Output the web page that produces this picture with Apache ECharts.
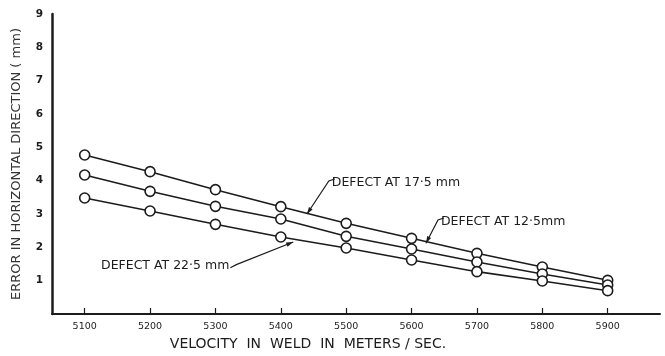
<!DOCTYPE html>
<html>
<head>
<meta charset="utf-8">
<script src="https://cdn.jsdelivr.net/npm/echarts@6/dist/echarts.min.js"></script>
<style>
  html, body { margin: 0; padding: 0; background: #fff; }
  #chart { width: 665px; height: 356px; }
</style>
</head>
<body>
<div id="chart"></div>
<script>
// velocities (m/s)
const velocity = [5100, 5200, 5300, 5400, 5500, 5600, 5700, 5800, 5900];
// error in horizontal direction (mm)
const defect175 = [4.77, 4.27, 3.73, 3.22, 2.72, 2.27, 1.82, 1.41, 1.01];
const defect125 = [4.17, 3.68, 3.23, 2.85, 2.33, 1.95, 1.56, 1.20, 0.87];
const defect225 = [3.48, 3.09, 2.69, 2.31, 1.98, 1.62, 1.27, 0.99, 0.70];
const xTicks = [5100, 5200, 5300, 5400, 5500, 5600, 5700, 5800, 5900];

const ink = "#1c1c1c";
const font = "DejaVu Sans";
const noteFont = "12.5px " + font;

const pairs = (ys) => velocity.map((v, i) => [v, ys[i]]);

const line = (name, ys) => ({
  name: name,
  type: "line",
  data: pairs(ys),
  symbol: "circle",
  symbolSize: 10,
  showSymbol: true,
  itemStyle: { color: "#fff", borderColor: ink, borderWidth: 1.6 },
  lineStyle: { color: ink, width: 1.6 },
  z: 3,
});

const chart = echarts.init(document.getElementById("chart"));
chart.setOption({
  backgroundColor: "#fff",
  animation: false,
  grid: { left: 52, right: 5, top: 14, bottom: 42, outerBoundsMode: "none", containLabel: false },
  xAxis: {
    type: "value",
    min: 5050,
    max: 5980,
    name: "VELOCITY  IN  WELD  IN  METERS / SEC.",
    nameLocation: "middle",
    nameGap: 22,
    nameTextStyle: { color: ink, fontFamily: font, fontSize: 14, padding: [0, 96, 0, 0] },
    axisLine: { lineStyle: { color: ink, width: 2 } },
    axisTick: {
      customValues: xTicks,
      inside: true,
      length: 6,
      lineStyle: { color: ink, width: 1.2 },
    },
    axisLabel: {
      customValues: xTicks,
      color: ink,
      fontFamily: font,
      fontSize: 9.5,
      margin: 8,
      formatter: (v) => String(v),
    },
    splitLine: { show: false },
  },
  yAxis: {
    type: "value",
    min: 0,
    max: 9,
    interval: 1,
    name: "ERROR IN HORIZONTAL DIRECTION ( mm)",
    nameLocation: "middle",
    nameRotate: 90,
    nameGap: 29,
    nameTextStyle: { color: "#333", fontFamily: font, fontSize: 13 },
    axisLine: { show: true, lineStyle: { color: ink, width: 2.5 } },
    axisTick: { show: false },
    axisLabel: {
      color: ink,
      fontFamily: font,
      fontSize: 10.5,
      fontWeight: "bold",
      margin: 9,
      formatter: (v) => (v === 0 ? "" : String(v)),
    },
    splitLine: { show: false },
  },
  series: [
    line("DEFECT AT 17·5 mm", defect175),
    line("DEFECT AT 12·5mm", defect125),
    line("DEFECT AT 22·5 mm", defect225),
  ],
});

// callouts: text anchor and arrow tip, in data units
const notes = [
  { text: "DEFECT AT 17·5 mm", at: [5478, 3.93], tip: [5440, 3.0], side: "left" },
  { text: "DEFECT AT 12·5mm", at: [5645, 2.76], tip: [5622, 2.12], side: "left" },
  { text: "DEFECT AT 22·5 mm", at: [5125, 1.45], tip: [5419, 2.16], side: "right" },
];

const ctx = document.createElement("canvas").getContext("2d");
ctx.font = noteFont;

const px = (p) => chart.convertToPixel({ gridIndex: 0 }, p);
const elements = [];
notes.forEach((n) => {
  const a = px(n.at);
  const t = px(n.tip);
  elements.push({
    type: "text",
    x: a[0],
    y: a[1],
    style: {
      text: n.text,
      fill: ink,
      font: noteFont,
      textAlign: "left",
      textVerticalAlign: "middle",
    },
    z: 10,
  });
  let pts;
  if (n.side === "left") {
    pts = [[a[0] + 3, a[1] - 4], [a[0] - 3, a[1] - 2], [t[0], t[1]]];
  } else {
    const e = a[0] + ctx.measureText(n.text).width + 1;
    pts = [[e, a[1] + 2], [e + 6, a[1] - 1], [t[0], t[1]]];
  }
  elements.push({
    type: "polyline",
    shape: { points: pts },
    style: { stroke: ink, lineWidth: 1.2, fill: null },
    z: 10,
  });
  // small arrowhead at the tip
  const d = [t[0] - pts[1][0], t[1] - pts[1][1]];
  const L = Math.hypot(d[0], d[1]);
  const u = [d[0] / L, d[1] / L];
  const w = [-u[1], u[0]];
  elements.push({
    type: "polygon",
    shape: {
      points: [
        [t[0], t[1]],
        [t[0] - u[0] * 7 + w[0] * 2.2, t[1] - u[1] * 7 + w[1] * 2.2],
        [t[0] - u[0] * 7 - w[0] * 2.2, t[1] - u[1] * 7 - w[1] * 2.2],
      ],
    },
    style: { fill: ink },
    z: 10,
  });
});
chart.setOption({ graphic: { elements: elements } });
</script>
</body>
</html>
